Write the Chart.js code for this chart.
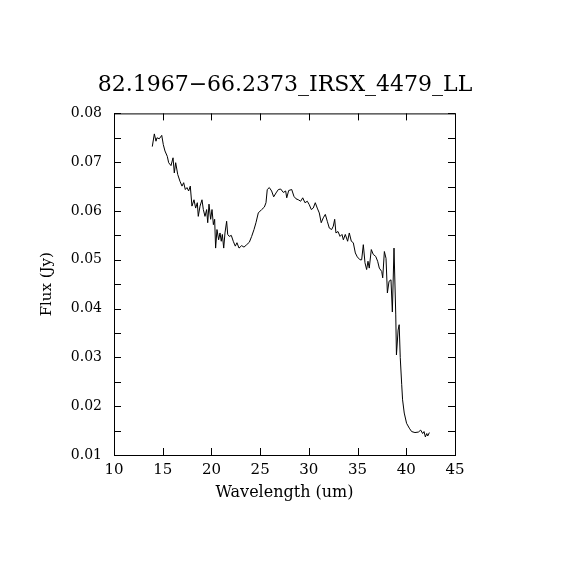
<!DOCTYPE html>
<html>
<head>
<meta charset="utf-8">
<script src="https://cdn.jsdelivr.net/npm/chart.js@4/dist/chart.umd.min.js"></script>
<style>
  body { margin: 0; background: #fff; }
</style>
</head>
<body>
<canvas id="spectrum" width="570" height="570"></canvas>
<script>
// spectrum
const wavelength = [
    13.93, 14.14, 14.31, 14.41, 14.65, 14.90, 15.06, 15.23, 15.47, 15.61,
    15.85, 16.06, 16.19, 16.33, 16.54, 16.77, 16.98, 17.15, 17.32, 17.49,
    17.66, 17.83, 18.00, 18.21, 18.38, 18.55, 18.65, 18.83, 19.03, 19.17,
    19.34, 19.51, 19.62, 19.75, 19.92, 20.06, 20.20, 20.33, 20.43, 20.57,
    20.74, 20.88, 21.01, 21.12, 21.26, 21.39, 21.56, 21.67, 21.83, 22.04,
    22.24, 22.45, 22.62, 22.83, 23.10, 23.34, 23.62, 23.89, 24.13, 24.37,
    24.57, 24.81, 25.16, 25.43, 25.60, 25.73, 25.94, 26.18, 26.39, 26.63,
    26.87, 27.11, 27.38, 27.62, 27.73, 27.93, 28.24, 28.47, 28.68, 28.92,
    29.16, 29.37, 29.60, 29.84, 30.04, 30.25, 30.45, 30.66, 30.86, 31.07,
    31.27, 31.48, 31.69, 31.89, 32.10, 32.34, 32.51, 32.65, 32.78, 32.99,
    33.20, 33.40, 33.54, 33.74, 33.98, 34.15, 34.36, 34.56, 34.77, 34.97,
    35.25, 35.42, 35.59, 35.76, 35.93, 36.07, 36.20, 36.41, 36.61, 36.86,
    37.06, 37.23, 37.48, 37.58, 37.75, 37.92, 38.06, 38.23, 38.43, 38.57,
    38.74, 38.92, 38.99, 39.16, 39.27, 39.38, 39.53, 39.62, 39.79, 40.03,
    40.31, 40.55, 40.89, 41.24, 41.48, 41.68, 41.82, 41.96, 42.10, 42.20,
    42.37
];
const flux = [
    0.0732, 0.0758, 0.0743, 0.0750, 0.0748, 0.0755, 0.0736, 0.0723, 0.0712, 0.0699,
    0.0693, 0.0709, 0.0678, 0.0699, 0.0675, 0.0661, 0.0651, 0.0658, 0.0644, 0.0648,
    0.0641, 0.0651, 0.0610, 0.0623, 0.0606, 0.0617, 0.0589, 0.0610, 0.0623, 0.0603,
    0.0589, 0.0603, 0.0576, 0.0614, 0.0583, 0.0603, 0.0572, 0.0583, 0.0524, 0.0562,
    0.0541, 0.0555, 0.0538, 0.0552, 0.0524, 0.0555, 0.0579, 0.0552, 0.0548, 0.0550,
    0.0538, 0.0528, 0.0535, 0.0524, 0.0529, 0.0526, 0.0531, 0.0536, 0.0548, 0.0562,
    0.0576, 0.0596, 0.0603, 0.0608, 0.0617, 0.0644, 0.0648, 0.0641, 0.0629, 0.0637,
    0.0644, 0.0645, 0.0638, 0.0641, 0.0627, 0.0642, 0.0644, 0.0630, 0.0625, 0.0623,
    0.0620, 0.0627, 0.0617, 0.0620, 0.0613, 0.0603, 0.0606, 0.0617, 0.0606, 0.0596,
    0.0576, 0.0586, 0.0593, 0.0579, 0.0565, 0.0562, 0.0569, 0.0583, 0.0555, 0.0558,
    0.0548, 0.0552, 0.0541, 0.0552, 0.0538, 0.0555, 0.0538, 0.0535, 0.0514, 0.0506,
    0.0500, 0.0500, 0.0531, 0.0494, 0.0480, 0.0497, 0.0483, 0.0521, 0.0511, 0.0507,
    0.0497, 0.0483, 0.0476, 0.0463, 0.0517, 0.0503, 0.0432, 0.0456, 0.0459, 0.0393,
    0.0524, 0.0387, 0.0305, 0.0356, 0.0367, 0.0300, 0.0244, 0.0213, 0.0186, 0.0165,
    0.0155, 0.0148, 0.0146, 0.0147, 0.0151, 0.0144, 0.0148, 0.0137, 0.0144, 0.0139,
    0.0146
];

const titleText = '82.1967\u221266.2373_IRSX_4479_LL';
const xLabel = 'Wavelength (um)';
const yLabel = 'Flux (Jy)';
const xRange = [10, 45];
const yRange = [0.01, 0.08];

const points = wavelength.map((w, i) => ({ x: w, y: flux[i] }));
const serif = 'DejaVu Serif';

// box round the plot, with tick marks pointing inwards on all four sides
const frame = {
    id: 'frame',
    afterDraw(chart) {
        const { ctx, chartArea: a, scales } = chart;
        const len = 7;
        ctx.save();
        ctx.strokeStyle = '#000';
        ctx.lineWidth = 1;
        ctx.strokeRect(a.left + 0.5, a.top + 0.5, a.right - a.left, a.bottom - a.top);
        ctx.beginPath();
        scales.x.ticks.forEach(t => {
            const px = Math.round(scales.x.getPixelForValue(t.value)) + 0.5;
            ctx.moveTo(px, a.bottom); ctx.lineTo(px, a.bottom - len);
            ctx.moveTo(px, a.top); ctx.lineTo(px, a.top + len);
        });
        scales.y.ticks.forEach(t => {
            const py = Math.round(scales.y.getPixelForValue(t.value)) + 0.5;
            ctx.moveTo(a.left, py); ctx.lineTo(a.left + len, py);
            ctx.moveTo(a.right, py); ctx.lineTo(a.right - len, py);
        });
        ctx.stroke();
        ctx.restore();
    }
};

new Chart(document.getElementById('spectrum'), {
    type: 'line',
    data: {
        datasets: [{
            data: points,
            borderColor: '#000',
            borderWidth: 1,
            pointRadius: 0,
            tension: 0,
            fill: false
        }]
    },
    options: {
        responsive: false,
        animation: false,
        layout: { padding: 0 },
        plugins: {
            legend: { display: false },
            tooltip: { enabled: false },
            title: {
                display: true,
                text: titleText,
                color: '#000',
                font: { family: serif, size: 22, weight: 'normal' },
                padding: { top: 72, bottom: 15 }
            }
        },
        scales: {
            x: {
                type: 'linear',
                min: xRange[0],
                max: xRange[1],
                grid: { display: false, drawTicks: false },
                border: { display: false },
                ticks: {
                    stepSize: 5,
                    color: '#000',
                    padding: 6,
                    maxRotation: 0,
                    autoSkip: false,
                    font: { family: serif, size: 15 }
                },
                title: {
                    display: true,
                    text: xLabel,
                    color: '#000',
                    font: { family: serif, size: 16 },
                    padding: { top: 0, bottom: 68 }
                },
                afterFit(scale) { scale.height = 115; }
            },
            y: {
                type: 'linear',
                min: yRange[0],
                max: yRange[1],
                grid: { display: false, drawTicks: false },
                border: { display: false },
                ticks: {
                    stepSize: 0.005,
                    color: '#000',
                    padding: 12,
                    autoSkip: false,
                    font: { family: serif, size: 14 },
                    callback(v) {
                        const c = v * 100;
                        return Math.abs(c - Math.round(c)) < 1e-6 ? v.toFixed(2) : '';
                    }
                },
                title: {
                    display: true,
                    text: yLabel,
                    color: '#000',
                    font: { family: serif, size: 15 },
                    padding: { top: 38, bottom: 0 }
                },
                afterFit(scale) { scale.width = 114; }
            },
            // empty right-hand axis that only reserves the margin
            yRight: {
                type: 'linear',
                position: 'right',
                min: yRange[0],
                max: yRange[1],
                grid: { display: false, drawTicks: false },
                border: { display: false },
                ticks: { display: false },
                afterFit(scale) { scale.width = 115; }
            }
        }
    },
    plugins: [frame]
});
</script>
</body>
</html>
